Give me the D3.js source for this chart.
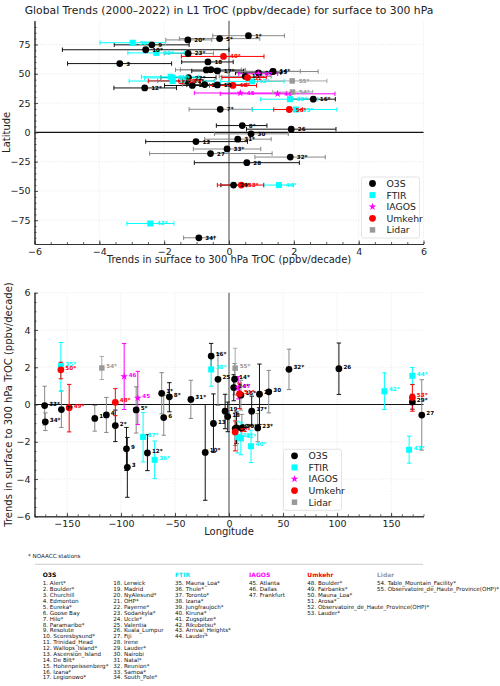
<!DOCTYPE html>
<html>
<head>
<meta charset="utf-8">
<script src="https://cdn.jsdelivr.net/npm/d3@7"></script>
<style>
body{margin:0;background:#fff}
svg{display:block;font-family:"DejaVu Sans",sans-serif}
</style>
</head>
<body>
<svg width="500" height="686"></svg>
<script>
// station list, numbered 1..55 in this order
const stationNames = ["Alert*","Boulder*","Churchill","Edmonton","Eureka*","Goose Bay","Hilo*","Paramaribo*","Resolute",
  "Scoresbysund*","Trinidad_Head","Wallops_Island*","Ascension_Island","De Bilt*","Hohenpeissenberg*","Izana*","Legionowo*",
  "Lerwick","Madrid","NyAlesund*","OHP*","Payerne*","Sodankyla*","Uccle*","Valentia","Kuala_Lumpur","Fiji","Irene",
  "Lauder*","Nairobi","Natal*","Reunion*","Samoa*","South_Pole*",
  "Mauna_Loa*","Thule*","Toronto*","Izana*","Jungfraujoch*","Kiruna*","Zugspitze*","Rikubetsu*","Arrival_Heights*","Lauder*",
  "Atlanta","Dallas","Frankfurt",
  "Boulder*","Fairbanks*","Mauna_Loa*","Arosa*","Observatoire_de_Haute_Province(OHP)*","Lauder*",
  "Table_Mountain_Facility*","Observatoire_de_Haute_Province(OHP)*"];
const networkNames = ["O3S","FTIR","IAGOS","Umkehr","Lidar"];
const networkSizes = [34,10,3,6,2];

const lat = [82.5,40.0,58.7,53.5,80.0,53.3,19.7,5.8,74.7,70.5,40.8,37.9,-7.9,52.1,47.8,28.3,52.4,60.1,40.5,78.9,43.9,46.8,67.4,50.8,51.9,
  2.7,-18.1,-25.9,-45.0,-1.3,-5.8,-21.1,-14.2,-90.0,
  19.5,76.5,43.8,28.3,46.5,67.8,47.4,43.5,-77.8,-45.0,
  33.6,32.9,50.0,
  40.0,64.8,19.5,46.8,43.9,-45.0,
  34.4,43.9];
const lon = [-62.3,-105.2,-94.1,-113.5,-85.9,-60.4,-155.1,-55.2,-94.9,-22.0,-124.2,-75.5,-14.4,5.2,11.0,-16.5,21.0,-1.2,-3.6,11.9,5.7,6.9,26.6,4.4,-10.2,
  101.7,178.4,28.2,169.7,36.8,-35.3,55.5,-170.6,-170.0,
  -155.6,-68.8,-79.5,-16.5,8.0,20.4,11.0,143.8,166.7,169.7,
  -84.4,-97.0,8.6,
  -105.2,-147.9,-155.6,9.7,5.7,169.7,
  -117.7,5.7];
// trends (ppbv/decade) and confidence limits
const trend = [0.60,-1.13,-3.37,-0.56,-0.29,-0.70,-0.27,0.41,-2.38,-2.57,-0.75,-2.60,-1.02,1.36,0.50,2.60,-0.36,-0.65,-0.36,-1.27,-1.30,-1.25,-1.26,0.91,1.35,
  1.92,-0.57,0.55,0.14,0.68,0.27,1.89,-0.06,-0.93,
  2.06,-2.97,-1.74,1.88,-1.74,-2.24,-1.80,0.71,-2.43,1.54,
  0.35,1.50,0.90,
  0.12,-0.17,1.86,0.57,-1.47,0.38,
  1.96,1.95];
const trendLo = [-0.50,-1.99,-4.98,-1.50,-1.53,-1.65,-1.23,-0.39,-3.54,-5.14,-1.43,-3.55,-2.57,0.52,-0.30,1.92,-1.15,-1.46,-1.30,-1.95,-2.20,-2.10,-2.00,0.20,-0.05,
  0.54,-2.45,-1.07,-0.25,-0.45,-0.75,0.80,-1.10,-1.40,
  0.71,-3.98,-3.08,0.98,-2.60,-3.12,-2.70,-0.27,-3.15,1.08,
  -1.07,-0.27,0.30,
  -0.60,-1.47,1.38,-0.22,-2.49,-0.36,
  1.34,0.88];
const trendHi = [1.71,-0.30,-1.77,0.38,0.95,0.50,0.73,1.17,-1.23,0.00,-0.05,-1.62,0.57,2.20,1.30,3.28,0.45,0.13,0.55,-0.53,-0.45,-0.40,-0.48,1.60,2.75,
  3.30,1.33,2.17,0.55,1.83,1.30,2.97,0.98,-0.45,
  3.33,-1.96,-0.43,2.74,-0.90,-1.38,-0.95,1.70,-1.70,1.99,
  1.78,3.27,1.50,
  0.85,1.08,2.27,1.15,-0.88,1.07,
  2.58,3.02];
// O3S error bars drawn dark (1) or grey (0)
const o3sDarkBar = [0,1,1,0,0,0,0,1,1,1,0,1,1,0,0,1,1,1,1,0,0,1,0,1,0,1,0,1,1,0,0,0,0,0];

const netColor = {O3S:"#000000", FTIR:"#00ffff", IAGOS:"#ff00ff", Umkehr:"#ff0000", Lidar:"#999999"};
const headColor = {O3S:"#000000", FTIR:"#00e5f0", IAGOS:"#ff00ff", Umkehr:"#ff0000", Lidar:"#999999"};

var networkOf = [];
networkSizes.forEach((n,k)=>{ for(var i=0;i<n;i++) networkOf.push(networkNames[k]); });

var stations = stationNames.map((name,i)=>{
    var net = networkOf[i];
    var bar = netColor[net];
    if(net=="O3S") bar = o3sDarkBar[i] ? "#111" : "#888";
    if(net=="Lidar") bar = "#aaa";
    return {
        id: i+1, name: name, net: net,
        label: (i+1) + (name.endsWith("*") ? "*" : ""),
        lat: lat[i], lon: lon[i], t: trend[i], lo: trendLo[i], hi: trendHi[i],
        barColor: bar
    }
});

var symbolFor = {
    O3S: d3.symbol().type(d3.symbolCircle).size(36),
    FTIR: d3.symbol().type(d3.symbolSquare).size(36),
    IAGOS: d3.symbol().type(d3.symbolStar).size(18),
    Umkehr: d3.symbol().type(d3.symbolCircle).size(36),
    Lidar: d3.symbol().type(d3.symbolSquare).size(30)
};

var svg = d3.select("svg");

function drawPanel(cfg){
    var g = svg.append("g");
    var x = cfg.x, y = cfg.y;
    var x0 = x.range()[0], x1 = x.range()[1], y0 = y.range()[0], y1 = y.range()[1];

    // grid
    g.append("g").selectAll("line").data(cfg.xTicks).enter().append("line")
        .attr("x1", d=>x(d)).attr("x2", d=>x(d)).attr("y1", y0).attr("y2", y1)
        .attr("stroke", "#e2e2e2").attr("stroke-width", 0.7).attr("stroke-dasharray", "1.2,1.5");
    g.append("g").selectAll("line").data(cfg.yTicks).enter().append("line")
        .attr("x1", x0).attr("x2", x1).attr("y1", d=>y(d)).attr("y2", d=>y(d))
        .attr("stroke", "#e2e2e2").attr("stroke-width", 0.7).attr("stroke-dasharray", "1.2,1.5");

    // zero lines
    g.append("line").attr("x1", x(0)).attr("x2", x(0)).attr("y1", y0).attr("y2", y1)
        .attr("stroke", "#555").attr("stroke-width", 1.1);
    g.append("line").attr("x1", x0).attr("x2", x1).attr("y1", y(0)).attr("y2", y(0))
        .attr("stroke", "#111").attr("stroke-width", 1.1);

    // axes
    g.append("g").attr("transform", "translate(0," + y0 + ")")
        .call(d3.axisBottom(x).tickValues(cfg.xTicks).tickSize(-3.5).tickSizeOuter(0).tickPadding(4));
    g.append("g").attr("transform", "translate(0," + y0 + ")")
        .call(d3.axisBottom(x).tickValues(cfg.xMinor).tickSize(-2).tickSizeOuter(0).tickFormat(""));
    g.append("g").attr("transform", "translate(" + x0 + ",0)")
        .call(d3.axisLeft(y).tickValues(cfg.yTicks).tickSize(-3.5).tickSizeOuter(0).tickPadding(4));
    g.append("g").attr("transform", "translate(" + x0 + ",0)")
        .call(d3.axisLeft(y).tickValues(cfg.yMinor).tickSize(-2).tickSizeOuter(0).tickFormat(""));
    g.selectAll(".domain").attr("stroke", "#333").attr("stroke-width", 1);
    g.selectAll(".tick line").attr("stroke", "#333").attr("stroke-width", 0.8);
    g.selectAll(".tick text").attr("font-size", 9.5).attr("font-family", "DejaVu Sans").attr("fill", "#222");

    // axis titles
    g.append("text").attr("x", (x0 + x1) / 2).attr("y", cfg.xLabelY).attr("text-anchor", "middle")
        .attr("font-size", 10).attr("fill", "#222").text(cfg.xLabel);
    g.append("text").attr("transform", "translate(" + cfg.yLabelX + "," + ((y0 + y1) / 2) + ") rotate(-90)")
        .attr("text-anchor", "middle").attr("font-size", 10).attr("fill", "#222").text(cfg.yLabel);

    // error bars
    var bars = g.append("g").selectAll("g").data(stations).enter().append("g")
        .attr("stroke", d=>d.barColor).attr("stroke-width", 1);
    if(cfg.horizontal){
        bars.append("line").attr("x1", d=>x(d.lo)).attr("x2", d=>x(d.hi)).attr("y1", d=>y(d.lat)).attr("y2", d=>y(d.lat));
        bars.append("line").attr("x1", d=>x(d.lo)).attr("x2", d=>x(d.lo)).attr("y1", d=>y(d.lat) - 2.2).attr("y2", d=>y(d.lat) + 2.2);
        bars.append("line").attr("x1", d=>x(d.hi)).attr("x2", d=>x(d.hi)).attr("y1", d=>y(d.lat) - 2.2).attr("y2", d=>y(d.lat) + 2.2);
    } else {
        bars.append("line").attr("x1", d=>x(d.lon)).attr("x2", d=>x(d.lon)).attr("y1", d=>y(d.lo)).attr("y2", d=>y(d.hi));
        bars.append("line").attr("x1", d=>x(d.lon) - 2.2).attr("x2", d=>x(d.lon) + 2.2).attr("y1", d=>y(d.lo)).attr("y2", d=>y(d.lo));
        bars.append("line").attr("x1", d=>x(d.lon) - 2.2).attr("x2", d=>x(d.lon) + 2.2).attr("y1", d=>y(d.hi)).attr("y2", d=>y(d.hi));
    }

    var px = d=> cfg.horizontal ? x(d.t) : x(d.lon);
    var py = d=> cfg.horizontal ? y(d.lat) : y(d.t);

    // markers
    g.append("g").selectAll("path").data(stations).enter().append("path")
        .attr("d", d=>symbolFor[d.net]())
        .attr("transform", d=>"translate(" + px(d) + "," + py(d) + ")")
        .attr("fill", d=>netColor[d.net]);

    // station labels
    g.append("g").selectAll("text").data(stations).enter().append("text")
        .attr("x", d=>px(d) + cfg.labelDx)
        .attr("y", d=>py(d) + cfg.labelDy)
        .attr("font-size", 5.6).attr("font-weight", "bold")
        .attr("fill", d=>netColor[d.net])
        .text(d=>d.label);

    // legend
    var lg = g.append("g").attr("transform", "translate(" + cfg.legend[0] + "," + cfg.legend[1] + ")");
    lg.append("rect").attr("width", 58).attr("height", 61).attr("rx", 2)
        .attr("fill", "#fff").attr("fill-opacity", 0.85).attr("stroke", "#ddd").attr("stroke-width", 0.8);
    networkNames.forEach((n,k)=>{
        var yy = 6.5 + k * 11.6;
        lg.append("path").attr("d", symbolFor[n]()).attr("transform", "translate(11," + yy + ")").attr("fill", netColor[n]);
        lg.append("text").attr("x", 25).attr("y", yy + 3.4).attr("font-size", 9.3).attr("fill", "#222").text(n);
    });
}

// upper panel: trend vs latitude
drawPanel({
    horizontal: true,
    x: d3.scaleLinear().domain([-6, 6]).range([34.5, 423.5]),
    y: d3.scaleLinear().domain([-95.3, 95.3]).range([244, 20.7]),
    xTicks: [-6,-4,-2,0,2,4,6], xMinor: d3.range(-6, 6.01, 0.5),
    yTicks: [-75,-50,-25,0,25,50,75], yMinor: d3.range(-90, 91, 5),
    xLabel: "Trends in surface to 300 hPa TrOC (ppbv/decade)", xLabelY: 263,
    yLabel: "Latitude", yLabelX: 10,
    labelDx: 6.5, labelDy: 2,
    legend: [361.5, 177]
});

// lower panel: longitude vs trend
drawPanel({
    horizontal: false,
    x: d3.scaleLinear().domain([-180, 180]).range([34.5, 423.5]),
    y: d3.scaleLinear().domain([-6, 6]).range([516.3, 292.7]),
    xTicks: [-150,-100,-50,0,50,100,150], xMinor: d3.range(-180, 181, 10),
    yTicks: [-6,-4,-2,0,2,4,6], yMinor: d3.range(-6, 6.01, 0.5),
    xLabel: "Longitude", xLabelY: 535,
    yLabel: "Trends in surface to 300 hPa TrOC (ppbv/decade)", yLabelX: 12,
    labelDx: 4.5, labelDy: 0,
    legend: [283.5, 449.3]
});

// title
svg.append("text").attr("x", 229).attr("y", 14).attr("text-anchor", "middle")
    .attr("font-size", 10.8).attr("fill", "#222")
    .text("Global Trends (2000\u20132022) in L1 TrOC (ppbv/decade) for surface to 300 hPa");

// station key
svg.append("text").attr("x", 28).attr("y", 558).attr("font-size", 5.6).attr("fill", "#222").text("* NOAACC stations");
svg.append("line").attr("x1", 35).attr("x2", 423).attr("y1", 564.3).attr("y2", 564.3).attr("stroke", "#ccc").attr("stroke-width", 1);

var columns = [
    {x: 42.7, net: "O3S", from: 0, to: 17, head: true},
    {x: 113.3, net: "O3S", from: 17, to: 34, head: false},
    {x: 175, net: "FTIR", from: 34, to: 44, head: true},
    {x: 249, net: "IAGOS", from: 44, to: 47, head: true},
    {x: 307.3, net: "Umkehr", from: 47, to: 53, head: true},
    {x: 377, net: "Lidar", from: 53, to: 55, head: true}
];
columns.forEach(c=>{
    if(c.head){
        svg.append("text").attr("x", c.x).attr("y", 577).attr("font-size", 6).attr("font-weight", "bold")
            .attr("fill", headColor[c.net]).text(c.net);
    }
    svg.append("g").selectAll("text").data(stations.slice(c.from, c.to)).enter().append("text")
        .attr("x", c.x).attr("y", (d,i)=>585.4 + i * 5.875)
        .attr("font-size", 5.6).attr("fill", "#111")
        .text(d=>d.id + ". " + d.name);
});
</script>
</body>
</html>
